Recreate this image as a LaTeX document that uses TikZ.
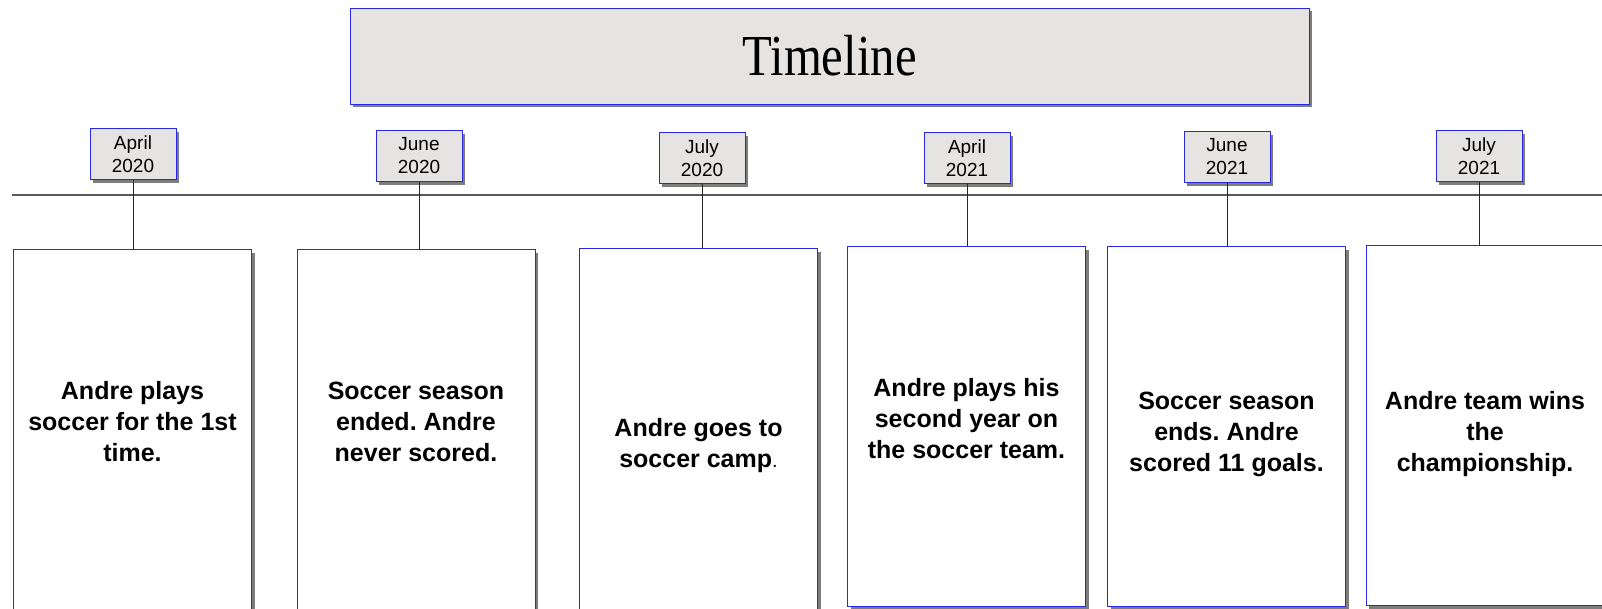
\documentclass[tikz,border=0pt]{standalone}
\usepackage{fontspec}
\setmainfont{Liberation Serif}
\setsansfont{Liberation Sans}
\usetikzlibrary{positioning,shadows}
\definecolor{edgeblue}{RGB}{40,40,230}
\definecolor{boxgray}{RGB}{230,228,226}
\definecolor{shadowgray}{RGB}{125,125,125}
\frenchspacing
\tikzset{
  shade3/.style={drop shadow={shadow xshift=3pt,shadow yshift=-3pt,fill=shadowgray,opacity=1}},
  titlebox/.style={draw=edgeblue,fill=boxgray,line width=1pt,shade3,minimum width=959pt,minimum height=96pt,inner sep=0pt},
  datebox/.style={draw=edgeblue,fill=boxgray,line width=1pt,shade3,minimum width=86pt,minimum height=51pt,inner sep=0pt,align=center,font=\sffamily\fontsize{19}{23}\selectfont},
  eventbox/.style={draw=edgeblue,fill=white,line width=1pt,shade3,minimum width=238pt,inner sep=0pt,anchor=north},
  eventtext/.style={align=center,font=\sffamily\bfseries\fontsize{25}{31}\selectfont},
  stem/.style={draw=black!85,line width=1pt}
}

\begin{document}
\begin{tikzpicture}[x=1pt,y=-1pt]
    \useasboundingbox (0,0) rectangle (1602,608);
    \clip (0,0) rectangle (1602,608);
    % heading
    \node[titlebox] (title) at (829.5,56) {\raisebox{-3pt}{\fontsize{58}{58}\selectfont\scalebox{0.84}[1]{Timeline}}};
    % the time axis
    \coordinate (axisL) at (12,195);
    \coordinate (axisR) at (1602,195);
    \draw[line width=1.2pt,black!65] (axisL) -- (axisR);
    % dates
    \node[datebox] (d1) at (133,154) {April\\2020};
    \node[datebox] (d2) at (419,156) {June\\2020};
    \node[datebox] (d3) at (702,158) {July\\2020};
    \node[datebox] (d4) at (967,158) {April\\2021};
    \node[datebox] (d5) at (1227,157) {June\\2021};
    \node[datebox] (d6) at (1479,156) {July\\2021};
    % event boxes
    \node[eventbox,minimum height=380pt] (ev1) at (132.5,249) {};
    \node[eventbox,minimum height=380pt] (ev2) at (416,249) {};
    \node[eventbox,minimum height=380pt] (ev3) at (698.5,248) {};
    \node[eventbox,minimum height=360pt] (ev4) at (966.5,246) {};
    \node[eventbox,minimum height=360pt] (ev5) at (1226.5,246) {};
    \node[eventbox,minimum height=360pt] (ev6) at (1485,245) {};
    \foreach \i in {1,...,6}
        \draw[stem] (d\i.south) -- (d\i.south |- ev\i.north);
    % texts
    \node[eventtext] (t1) at (132.5,422) {Andre plays\\soccer for the 1st\\time.};
    \node[eventtext] (t2) at (416,422) {Soccer season\\ended. Andre\\never scored.};
    \node[eventtext] (t3) at (698.5,446) {Andre goes to\\soccer camp{\mdseries\fontsize{20}{31}\selectfont.}};
    \node[eventtext] (t4) at (966.5,419) {Andre plays his\\second year on\\the soccer team.};
    \node[eventtext] (t5) at (1226.5,434) {Soccer season\\ends. Andre\\scored 11 goals.};
    \node[eventtext] (t6) at (1485,434) {Andre team wins\\the\\championship.};
\end{tikzpicture}
\end{document}
